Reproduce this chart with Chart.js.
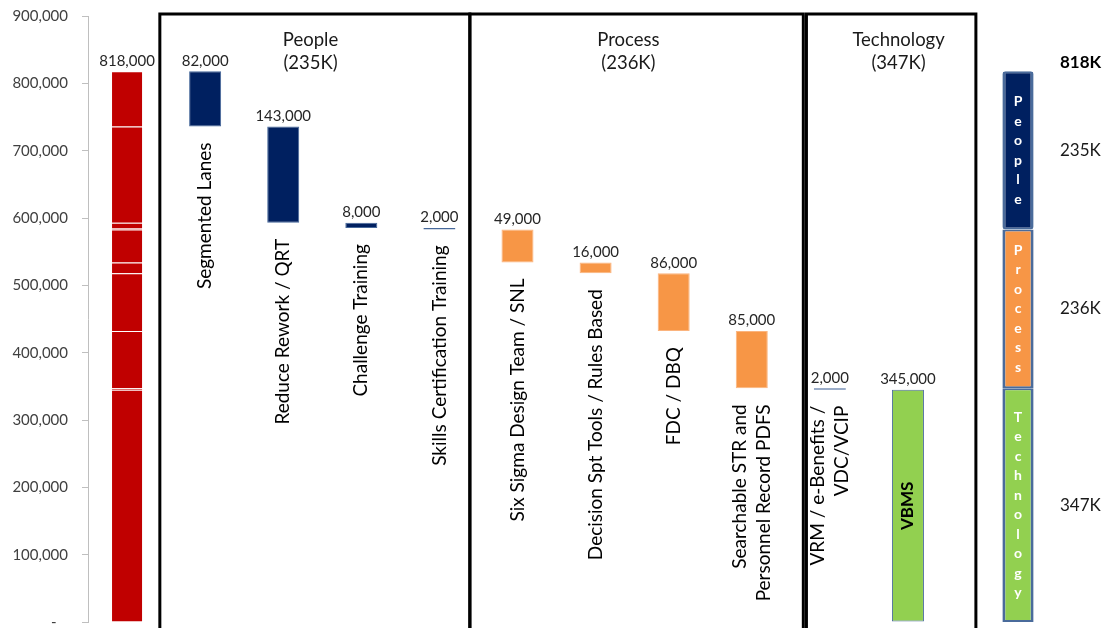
<!DOCTYPE html>
<html>
<head>
<meta charset="utf-8">
<script src="https://cdn.jsdelivr.net/npm/chart.js@4.4.1/dist/chart.umd.min.js"></script>
<style>
  html, body { margin: 0; padding: 0; background: #fff; }
  #wrap { position: relative; width: 1107px; height: 628px; }
  #main { position: absolute; left: 0; top: 0; }
  #side { position: absolute; left: 988px; top: 0; }
</style>
</head>
<body>
<div id="wrap">
  <canvas id="main" width="1107" height="628"></canvas>
  <canvas id="side" width="119" height="628"></canvas>
</div>
<script>
// chart data
const categories = [
  'Total',
  'Segmented Lanes',
  'Reduce Rework / QRT',
  'Challenge Training',
  'Skills Certification Training',
  'Six Sigma Design Team / SNL',
  'Decision Spt Tools / Rules Based',
  'FDC / DBQ',
  ['Searchable STR and', 'Personnel Record PDFS'],
  ['VRM / e-Benefits /', 'VDC/VCIP'],
  'VBMS'
];
const grandTotal = 818000;
const stepValues = [82000, 143000, 8000, 2000, 49000, 16000, 86000, 85000, 2000, 345000];
const stepGroups = ['People', 'People', 'People', 'People', 'Process', 'Process', 'Process', 'Process', 'Technology', 'Technology'];
const groupNames = ['People', 'Process', 'Technology'];
const groupTotals = [235000, 236000, 347000];
const yMax = 900000;
const yStep = 100000;

const RED = '#c00000';
const colors = { People: '#002060', Process: '#f79646', Technology: '#92d050' };
const borders = { People: '#46689a', Process: '#fbb47e', Technology: '#4f6f9f' };
const FONT = 'Lato, "Open Sans", sans-serif';

// waterfall ranges, top down from the total
let running = grandTotal;
const steps = stepValues.map(v => {
  const hi = running;
  running -= v;
  return [running, hi];
});
const ranges = [[0, grandTotal], ...steps];
const kLabel = v => Math.round(v / 1000) + 'K';

// one dataset per step: its slice of the red total bar + its own floating bar
const datasets = steps.map((range, i) => {
  const data = categories.map(() => null);
  data[0] = range;
  data[i + 1] = range;
  const g = stepGroups[i];
  return {
    label: [].concat(categories[i + 1]).join(' '),
    data,
    grouped: false,
    barPercentage: 0.41,
    categoryPercentage: 1,
    borderSkipped: false,
    backgroundColor: c => c.dataIndex === 0 ? RED : colors[g],
    borderColor: c => c.dataIndex === 0 ? 'rgba(255,255,255,0.15)' : borders[g],
    borderWidth: c => c.dataIndex === 0 ? { top: 1, left: 1, right: 1, bottom: 0 } : 1
  };
});

const annotate = {
  id: 'annotate',
  afterDatasetsDraw(chart) {
    const { ctx, scales: { x, y } } = chart;
    ctx.save();
    ranges.forEach((r, i) => {
      const cx = x.getPixelForValue(i);
      const top = y.getPixelForValue(r[1]);
      const bottom = y.getPixelForValue(r[0]);
      ctx.font = '15px ' + FONT;
      ctx.fillStyle = '#262626';
      ctx.textAlign = 'center';
      ctx.textBaseline = 'bottom';
      ctx.fillText((r[1] - r[0]).toLocaleString('en-US'), cx, top - 3);
      if (i === 0) return;
      const lines = [].concat(categories[i]);
      ctx.save();
      ctx.fillStyle = '#000';
      ctx.textBaseline = 'middle';
      if (r[0] === 0) {
        // bar reaches the axis: label goes inside it
        ctx.translate(cx, (top + bottom) / 2);
        ctx.rotate(-Math.PI / 2);
        ctx.font = 'bold 17px ' + FONT;
        ctx.textAlign = 'center';
        ctx.fillText(lines[0], 0, 0);
      } else {
        ctx.translate(cx, bottom + 16);
        ctx.rotate(-Math.PI / 2);
        ctx.font = '19px ' + FONT;
        ctx.textAlign = 'right';
        lines.forEach((ln, k) => ctx.fillText(ln, 0, (k - (lines.length - 1) / 2) * 24));
      }
      ctx.restore();
    });
    ctx.restore();
  },
  afterDraw(chart) {
    const { ctx, chartArea, scales: { x } } = chart;
    const boxes = [[0.42, 4.39], [4.39, 8.66], [8.7, 10.87]];
    const headerAt = [2.35, 6.42, 9.88];
    ctx.save();
    ctx.strokeStyle = '#000';
    ctx.lineWidth = 3;
    boxes.forEach(([a, b]) => {
      const l = x.getPixelForValue(a), r = x.getPixelForValue(b);
      ctx.strokeRect(l, chartArea.top - 2, r - l, chart.height + 10);
    });
    ctx.fillStyle = '#1a1a1a';
    ctx.font = '18.5px ' + FONT;
    ctx.textAlign = 'center';
    ctx.textBaseline = 'middle';
    groupNames.forEach((g, i) => {
      const cx = x.getPixelForValue(headerAt[i]);
      ctx.fillText(g, cx, chartArea.top + 24);
      ctx.fillText('(' + kLabel(groupTotals[i]) + ')', cx, chartArea.top + 47);
    });
    ctx.restore();
  }
};

new Chart(document.getElementById('main'), {
  type: 'bar',
  data: { labels: categories, datasets },
  options: {
    responsive: false,
    animation: false,
    layout: { padding: { left: 0, right: 160, top: 16, bottom: 6 } },
    plugins: { legend: { display: false }, tooltip: { enabled: false } },
    scales: {
      x: { display: false },
      y: {
        min: 0,
        max: yMax,
        afterFit: s => { s.width = 88; s.paddingTop = 0; s.paddingBottom = 0; },
        ticks: {
          stepSize: yStep,
          padding: 14,
          color: '#404040',
          font: { family: FONT, size: 15 },
          callback: v => v === 0 ? '-   ' : v.toLocaleString('en-US')
        },
        grid: { drawOnChartArea: false, tickLength: 6, color: '#bfbfbf' },
        border: { color: '#bfbfbf' }
      }
    }
  },
  plugins: [annotate]
});

// summary stacked bar on the right
const sideLabels = {
  id: 'sideLabels',
  afterDatasetsDraw(chart) {
    const { ctx, chartArea } = chart;
    ctx.save();
    ctx.textBaseline = 'middle';
    let topY = Infinity;
    chart.data.datasets.forEach((ds, i) => {
      const bar = chart.getDatasetMeta(i).data[0];
      const top = Math.min(bar.y, bar.base), bottom = Math.max(bar.y, bar.base);
      const mid = (top + bottom) / 2;
      topY = Math.min(topY, top);
      const letters = ds.label.split('');
      ctx.fillStyle = '#fff';
      ctx.font = 'bold 14px ' + FONT;
      ctx.textAlign = 'center';
      letters.forEach((ch, k) => ctx.fillText(ch, bar.x, mid + (k - (letters.length - 1) / 2) * 19.5));
      ctx.fillStyle = '#1a1a1a';
      ctx.font = '17px ' + FONT;
      ctx.textAlign = 'left';
      ctx.fillText(kLabel(ds.data[0]), chartArea.right + 12, mid);
    });
    ctx.fillStyle = '#000';
    ctx.font = 'bold 17px ' + FONT;
    ctx.textAlign = 'left';
    ctx.fillText(kLabel(grandTotal), chartArea.right + 12, topY - 9);
    ctx.restore();
  }
};

const sideOrder = [...groupNames].reverse();
new Chart(document.getElementById('side'), {
  type: 'bar',
  data: {
    labels: ['Total'],
    datasets: sideOrder.map(g => ({
      label: g,
      data: [groupTotals[groupNames.indexOf(g)]],
      stack: 'all',
      backgroundColor: colors[g],
      borderColor: '#4a6b9b',
      borderWidth: { top: 2, bottom: 2, left: 3, right: 3 },
      borderSkipped: false,
      borderRadius: 3,
      barPercentage: 0.52,
      categoryPercentage: 1
    }))
  },
  options: {
    responsive: false,
    animation: false,
    layout: { padding: { left: 0, right: 59, top: 16, bottom: 6 } },
    plugins: { legend: { display: false }, tooltip: { enabled: false } },
    scales: {
      x: { display: false, stacked: true },
      y: { display: false, stacked: true, min: 0, max: yMax }
    }
  },
  plugins: [sideLabels]
});
</script>
</body>
</html>
